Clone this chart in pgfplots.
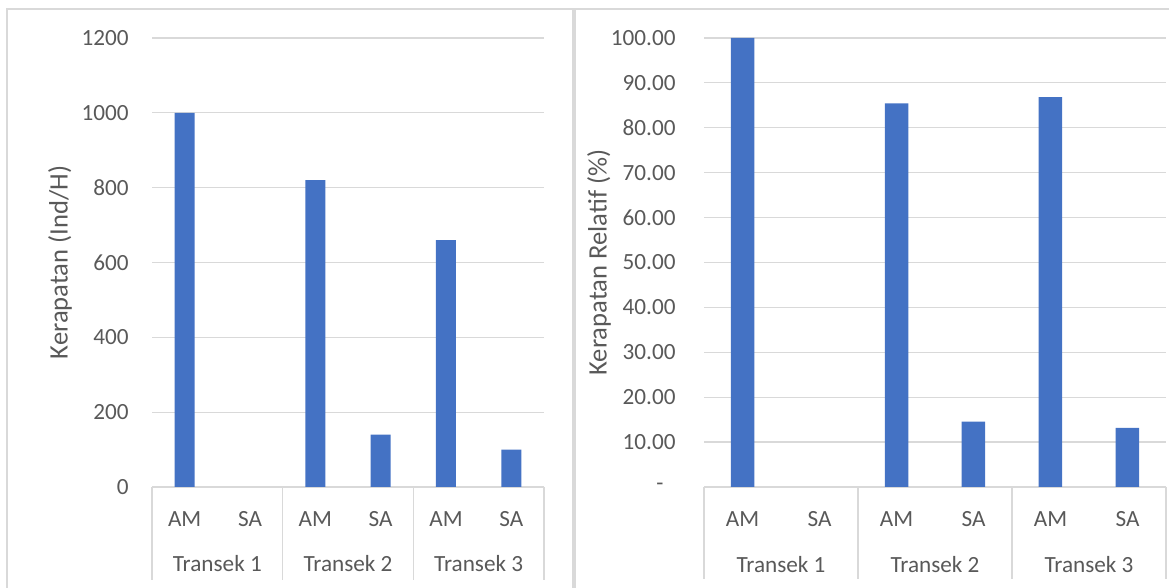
\documentclass[border=0pt]{standalone}
\usepackage{fontspec}
\setmainfont{Carlito}
\usepackage{pgfplots}
\pgfplotsset{compat=1.18}
\definecolor{barblue}{HTML}{4472C4}
\definecolor{gridgray}{HTML}{D9D9D9}
\definecolor{txt}{HTML}{595959}
\newcommand{\cf}{\fontsize{11.6}{13.5}\selectfont}
\newcommand{\lf}{\fontsize{13.3}{15.5}\selectfont}
\pgfplotsset{common/.style={
  scale only axis, height=224.5pt, ymin=0, xmin=-0.5, xmax=5.5,
  xtick={0,...,5}, xticklabels={AM,SA,AM,SA,AM,SA},
  ymajorgrids, grid style={gridgray, line width=0.6pt},
  axis line style={draw=none}, major tick length=0pt,
  tick label style={font=\cf, text=txt},
  /pgf/number format/assume math mode=true,
  xticklabel style={anchor=base, inner sep=0pt, yshift=-20pt},
  clip=false, ybar,
}}
\begin{document}
\begin{tikzpicture}[x=1pt,y=1pt]
\useasboundingbox (0,0) rectangle (584.5,294);
\draw[gridgray, line width=0.6pt] (3.5,-1) -- (3.5,289.5) -- (286.5,289.5) -- (286.5,-1);
\draw[gridgray, line width=0.6pt] (287.5,-1) -- (287.5,289.5) -- (586,289.5);

\begin{axis}[common,
  at={(76pt,50.5pt)}, anchor=south west, width=196pt,
  ymax=1200, ytick={0,200,400,600,800,1000,1200},
  yticklabels={0,200,400,600,800,1000,1200},
  yticklabel style={anchor=east, inner sep=0pt, xshift=-11.5pt},
  bar width=10pt,
  ylabel={Kerapatan (Ind/H)},
  every axis y label/.style={at={(axis description cs:0,0.5)}, xshift=-46pt, rotate=90, anchor=center, font=\lf, text=txt, inner sep=0pt},
]
\addplot[fill=barblue, draw=none] coordinates {(0,1000) (2,820) (3,140) (4,660) (5,100)};
\foreach \xx in {-0.5,1.5,3.5,5.5} {
  \edef\temp{\noexpand\draw[gridgray, line width=0.6pt] (axis cs:\xx,0) -- ++(0pt,-46.5pt);}
  \temp
}
\node[font=\cf, text=txt, anchor=base, inner sep=0pt] at (axis cs:0.5,0) [yshift=-42.5pt] {Transek 1};
\node[font=\cf, text=txt, anchor=base, inner sep=0pt] at (axis cs:2.5,0) [yshift=-42.5pt] {Transek 2};
\node[font=\cf, text=txt, anchor=base, inner sep=0pt] at (axis cs:4.5,0) [yshift=-42.5pt] {Transek 3};
\end{axis}

\begin{axis}[common,
  at={(352pt,50.5pt)}, anchor=south west, width=231pt,
  ymax=100, ytick={0,10,20,30,40,50,60,70,80,90,100},
  yticklabels={-\kern6pt,10.00,20.00,30.00,40.00,50.00,60.00,70.00,80.00,90.00,100.00},
  yticklabel style={anchor=east, inner sep=0pt, xshift=-14pt},
  bar width=11.75pt,
  ylabel={Kerapatan Relatif (\%)},
  every axis y label/.style={at={(axis description cs:0,0.5)}, xshift=-52.5pt, rotate=90, anchor=center, font=\lf, text=txt, inner sep=0pt},
]
\addplot[fill=barblue, draw=none] coordinates {(0,100) (2,85.42) (3,14.58) (4,86.84) (5,13.16)};
\foreach \xx in {-0.5,1.5,3.5,5.5} {
  \edef\temp{\noexpand\draw[gridgray, line width=0.6pt] (axis cs:\xx,0) -- ++(0pt,-46pt);}
  \temp
}
\node[font=\cf, text=txt, anchor=base, inner sep=0pt] at (axis cs:0.5,0) [yshift=-43pt] {Transek 1};
\node[font=\cf, text=txt, anchor=base, inner sep=0pt] at (axis cs:2.5,0) [yshift=-43pt] {Transek 2};
\node[font=\cf, text=txt, anchor=base, inner sep=0pt] at (axis cs:4.5,0) [yshift=-43pt] {Transek 3};
\end{axis}
\end{tikzpicture}
\end{document}
